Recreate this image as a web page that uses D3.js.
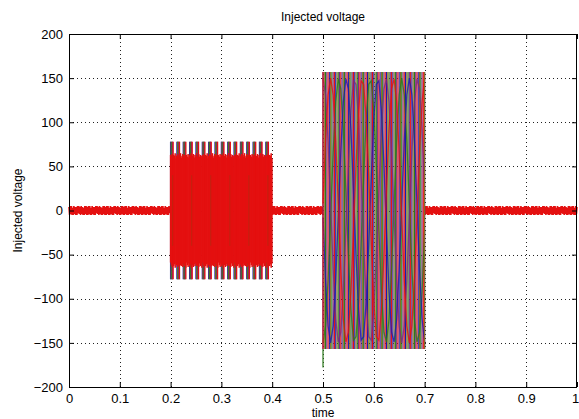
<!DOCTYPE html>
<html>
<head>
<meta charset="utf-8">
<script src="https://cdn.jsdelivr.net/npm/d3@7"></script>
<style>
  body { margin: 0; background: #fff; }
  text { font-family: "Liberation Sans", Arial, sans-serif; fill: #000; }
</style>
</head>
<body>
<div id="chart"></div>
<script>
// axis ticks
var xTicks = [0, 0.1, 0.2, 0.3, 0.4, 0.5, 0.6, 0.7, 0.8, 0.9, 1];
var yTicks = [-200, -150, -100, -50, 0, 50, 100, 150, 200];

// quiet parts of the trace (small red noise band around 0)
var quietSpans = [[0, 0.2], [0.4, 0.5], [0.7, 1]];
var noiseValues = [4, -5, 5, -4, 5, -5, 3, -5, 5, -4, 4, -5, 4, -5, 5, -3, 5, -4, 4, -5, 5, -4, 4, -5, 3, -5, 5, -4, 5, -5];

// first sag: 0.2 - 0.4
var sag1Span = [0.2, 0.4];
var sag1Peak = 78;
// red core edge read from the block (repeats along the block)
var sag1CoreTop = [63, 61, 64, 60, 63, 62, 65, 59, 62, 64, 60, 63, 61, 65, 60, 62, 64, 61, 63, 60, 62];

// second sag: 0.5 - 0.7
var sag2Span = [0.5, 0.7];
var sag2Peak = 157;
var startSpike = { t: 0.5, from: -157, to: -178 };

// slow traces seen inside the second block (every 0.005 s)
var envTimes = [0.500, 0.505, 0.510, 0.515, 0.520, 0.525, 0.530, 0.535, 0.540, 0.545,
                0.550, 0.555, 0.560, 0.565, 0.570, 0.575, 0.580, 0.585, 0.590, 0.595,
                0.600, 0.605, 0.610, 0.615, 0.620, 0.625, 0.630, 0.635, 0.640, 0.645,
                0.650, 0.655, 0.660, 0.665, 0.670, 0.675, 0.680, 0.685, 0.690, 0.695, 0.700];
var blueEnv = [-8, -79, -131, -150, -131, -79, -8, 66, 123, 149, 138, 92, 23, -51, -113, -147, -143, -104, -39, 36,
               104, 143, 147, 113, 51, -23, -92, -138, -149, -123, -66, 8, 79, 131, 150, 131, 79, 8, -66, -123, -149];
var redEnv = [8, 79, 131, 150, 131, 79, 8, -66, -123, -149, -138, -92, -23, 51, 113, 147, 143, 104, 39, -36,
              -104, -143, -147, -113, -51, 23, 92, 138, 149, 123, 66, -8, -79, -131, -150, -131, -79, -8, 66, 123, 149];
var greenEnv = [-150, -131, -79, -8, 66, 123, 149, 138, 92, 23, -51, -113, -147, -143, -104, -39, 36, 104, 143, 147,
                113, 51, -23, -92, -138, -149, -123, -66, 8, 79, 131, 150, 131, 79, 8, -66, -123, -149, -138, -92, -23];
var purpleEnv = [150, 131, 79, 8, -66, -123, -149, -138, -92, -23, 51, 113, 147, 143, 104, 39, -36, -104, -143, -147,
                 -113, -51, 23, 92, 138, 149, 123, 66, -8, -79, -131, -150, -131, -79, -8, 66, 123, 149, 138, 92, 23];

var phaseColors = { blue: "#1a1ab0", green: "#2a7a1a", purple: "#7a2a7e", red: "#e41010", olive: "#8a6a22" };
var stripeStep = 0.0125;
var stripeOffsets = { blue: 0.000, olive: 0.0025, green: 0.005, purple: 0.0075, red: 0.010 };

var svgWidth = 579;
var svgHeight = 419;
var margin = { top: 34, right: 2, bottom: 32, left: 69 };
var width = svgWidth - margin.left - margin.right;
var height = svgHeight - margin.top - margin.bottom;

var svg = d3.select("#chart")
    .append("svg")
    .attr("width", svgWidth)
    .attr("height", svgHeight);

var chartGroup = svg.append("g")
    .attr("transform", `translate(${margin.left}, ${margin.top})`);

var xScale = d3.scaleLinear().domain([0, 1]).range([0, width]);
var yScale = d3.scaleLinear().domain([-200, 200]).range([height, 0]);

// dotted grid
chartGroup.selectAll(".gx")
    .data(xTicks.slice(1, -1))
    .enter()
    .append("line")
    .attr("x1", d => Math.round(xScale(d)) + 0.5).attr("x2", d => Math.round(xScale(d)) + 0.5)
    .attr("y1", 0).attr("y2", height)
    .attr("stroke", "#222").attr("stroke-width", 1)
    .attr("stroke-dasharray", "1,3");

chartGroup.selectAll(".gy")
    .data(yTicks.slice(1, -1))
    .enter()
    .append("line")
    .attr("x1", 0).attr("x2", width)
    .attr("y1", d => Math.round(yScale(d)) + 0.5).attr("y2", d => Math.round(yScale(d)) + 0.5)
    .attr("stroke", "#222").attr("stroke-width", 1)
    .attr("stroke-dasharray", "1,3");

// stripe times of one phase inside a span
function stripeTimes(span, offset) {
    var out = [];
    for (var t = span[0] + offset; t <= span[1]; t += stripeStep) out.push(t);
    return out;
}

var plot = chartGroup.append("g");
var phases = ["blue", "olive", "green", "purple", "red"];

// quiet noise band
quietSpans.forEach(function(span) {
    var pts = [];
    var i = 0;
    for (var t = span[0]; t <= span[1] + 1e-9; t += 0.0012) {
        pts.push([t, noiseValues[i % noiseValues.length]]);
        i++;
    }
    plot.append("path")
        .datum(pts)
        .attr("d", d3.line().x(d => xScale(d[0])).y(d => yScale(d[1])))
        .attr("fill", "none")
        .attr("stroke", phaseColors.red)
        .attr("stroke-width", 1.6);
});

// first block: full-height stripes of each phase, then dense red core
phases.forEach(function(ph) {
    plot.selectAll(null)
        .data(stripeTimes(sag1Span, stripeOffsets[ph] / 2))
        .enter()
        .append("line")
        .attr("x1", d => xScale(d)).attr("x2", d => xScale(d))
        .attr("y1", yScale(sag1Peak)).attr("y2", yScale(-sag1Peak))
        .attr("stroke", phaseColors[ph]).attr("stroke-width", 1.3);
});
var coreTimes = [];
for (var t = sag1Span[0]; t <= sag1Span[1]; t += 0.0015) coreTimes.push(t);
plot.selectAll(null)
    .data(coreTimes)
    .enter()
    .append("line")
    .attr("x1", d => xScale(d)).attr("x2", d => xScale(d))
    .attr("y1", (d, i) => yScale(sag1CoreTop[i % sag1CoreTop.length]))
    .attr("y2", (d, i) => yScale(-sag1CoreTop[(i + 7) % sag1CoreTop.length]))
    .attr("stroke", phaseColors.red).attr("stroke-width", 1.5);

// a few dark streaks inside the red core
plot.selectAll(null)
    .data(stripeTimes(sag1Span, 0.004).filter((d, i) => i % 3 === 0))
    .enter()
    .append("line")
    .attr("x1", d => xScale(d)).attr("x2", d => xScale(d))
    .attr("y1", yScale(40)).attr("y2", yScale(-40))
    .attr("stroke", "#9a3a10").attr("stroke-width", 0.8).attr("opacity", 0.6);

// second block: full-height stripes
phases.forEach(function(ph) {
    plot.selectAll(null)
        .data(stripeTimes(sag2Span, stripeOffsets[ph]))
        .enter()
        .append("line")
        .attr("x1", d => xScale(d)).attr("x2", d => xScale(d))
        .attr("y1", yScale(sag2Peak)).attr("y2", yScale(-sag2Peak))
        .attr("stroke", phaseColors[ph]).attr("stroke-width", 1.1);
});

// slow traces
var envLine = d3.line().x(d => xScale(d[0])).y(d => yScale(d[1]));
[["green", greenEnv], ["purple", purpleEnv], ["blue", blueEnv], ["red", redEnv]].forEach(function(e) {
    plot.append("path")
        .datum(envTimes.map((t, i) => [t, e[1][i]]))
        .attr("d", envLine)
        .attr("fill", "none")
        .attr("stroke", phaseColors[e[0]])
        .attr("stroke-width", 1.3)
        .attr("opacity", 0.8);
});

// edges of second block and start spike
plot.append("line")
    .attr("x1", xScale(sag2Span[0])).attr("x2", xScale(sag2Span[0]))
    .attr("y1", yScale(sag2Peak)).attr("y2", yScale(-sag2Peak))
    .attr("stroke", phaseColors.red).attr("stroke-width", 1.2);
plot.append("line")
    .attr("x1", xScale(sag2Span[1])).attr("x2", xScale(sag2Span[1]))
    .attr("y1", yScale(sag2Peak)).attr("y2", yScale(-sag2Peak))
    .attr("stroke", phaseColors.olive).attr("stroke-width", 1.2);
plot.append("line")
    .attr("x1", xScale(startSpike.t)).attr("x2", xScale(startSpike.t))
    .attr("y1", yScale(startSpike.from)).attr("y2", yScale(startSpike.to))
    .attr("stroke", phaseColors.green).attr("stroke-width", 1.2);

// axes (ticks inside, MATLAB style)
var bottomAxis = d3.axisBottom(xScale).tickValues(xTicks)
    .tickSizeInner(-5).tickSizeOuter(0).tickPadding(7)
    .tickFormat(d => d3.format("")(d));
var leftAxis = d3.axisLeft(yScale).tickValues(yTicks)
    .tickSizeInner(-5).tickSizeOuter(0).tickPadding(6);

var gx = chartGroup.append("g")
    .attr("transform", `translate(0, ${height})`)
    .call(bottomAxis);
var gy = chartGroup.append("g")
    .call(leftAxis);
[gx, gy].forEach(function(g) {
    g.select(".domain").remove();
    g.selectAll("text").style("font-size", "13px").style("font-family", "Liberation Sans, Arial, sans-serif");
    g.selectAll("line").attr("stroke", "#000");
});
// keep the last x label inside the window
gx.selectAll(".tick text").filter(d => d === 1).attr("dx", "-2px");

chartGroup.append("g")
    .attr("transform", `translate(${width}, 0)`)
    .call(d3.axisRight(yScale).tickValues(yTicks).tickSizeInner(-5).tickSizeOuter(0).tickFormat(""))
    .call(g => g.select(".domain").remove());
chartGroup.append("g")
    .call(d3.axisTop(xScale).tickValues(xTicks).tickSizeInner(-5).tickSizeOuter(0).tickFormat(""))
    .call(g => g.select(".domain").remove());

chartGroup.append("rect")
    .attr("x", 0.5).attr("y", 0.5)
    .attr("width", width - 1).attr("height", height)
    .attr("fill", "none").attr("stroke", "#000").attr("stroke-width", 1);

// labels
chartGroup.append("text")
    .attr("x", width / 2).attr("y", -13)
    .attr("text-anchor", "middle")
    .style("font-size", "12px")
    .text("Injected voltage");

chartGroup.append("text")
    .attr("x", width / 2).attr("y", height + 30)
    .attr("text-anchor", "middle")
    .style("font-size", "12px")
    .text("time");

chartGroup.append("text")
    .attr("transform", "rotate(-90)")
    .attr("x", -height / 2).attr("y", -47)
    .attr("text-anchor", "middle")
    .style("font-size", "12px")
    .text("Injected voltage");
</script>
</body>
</html>
